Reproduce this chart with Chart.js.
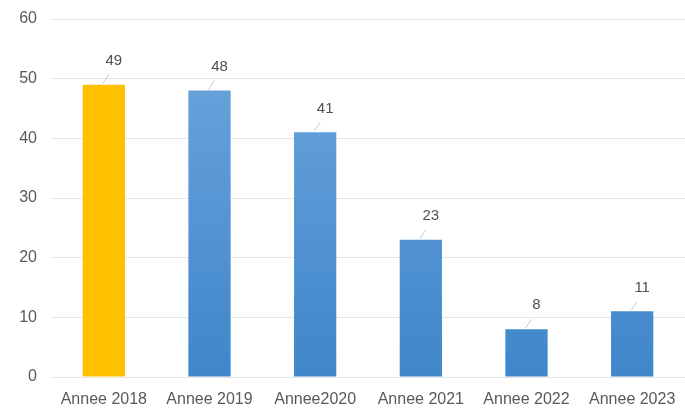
<!DOCTYPE html>
<html lang="fr">
<head>
  <meta charset="UTF-8">
  <title>Annees</title>
  <script src="https://cdn.jsdelivr.net/npm/chart.js"></script>
  <style>
    body { margin: 0; background: #fff; }
    #wrap { width: 685px; height: 408px; position: relative; }
  </style>
</head>
<body>
  <div id="wrap"><canvas id="chart"></canvas></div>
  <script>
    const labels = ['Annee 2018', 'Annee 2019', 'Annee2020', 'Annee 2021', 'Annee 2022', 'Annee 2023'];
    const values = [49, 48, 41, 23, 8, 11];
    const yTicks = [0, 10, 20, 30, 40, 50, 60];

    const FONT = '"Liberation Sans", Arial, sans-serif';

    // blue gradient for bars, yellow for the first one
    function barColor(ctx) {
      if (ctx.dataIndex === 0) return '#ffc000';
      const area = ctx.chart.chartArea;
      if (!area) return '#5b9bd5';
      const g = ctx.chart.ctx.createLinearGradient(0, area.top, 0, area.bottom);
      g.addColorStop(0, '#6fa7dd');
      g.addColorStop(1, '#3f86cb');
      return g;
    }

    // value labels with a short leader line
    const valueLabels = {
      id: 'valueLabels',
      afterDatasetsDraw(chart) {
        const c = chart.ctx;
        const meta = chart.getDatasetMeta(0);
        c.save();
        c.font = '15px ' + FONT;
        c.textAlign = 'center';
        c.textBaseline = 'middle';
        meta.data.forEach((bar, i) => {
          c.strokeStyle = 'rgba(150,170,200,0.6)';
          c.lineWidth = 1;
          c.beginPath();
          c.moveTo(bar.x - 1, bar.y - 1);
          c.lineTo(bar.x + 5, bar.y - 10);
          c.stroke();
          c.fillStyle = '#505050';
          c.fillText(values[i], bar.x + 10, bar.y - 24);
        });
        c.restore();
      }
    };

    new Chart(document.getElementById('chart'), {
      type: 'bar',
      data: {
        labels: labels,
        datasets: [{
          data: values,
          backgroundColor: barColor,
          barPercentage: 0.4,
          categoryPercentage: 1
        }]
      },
      options: {
        responsive: true,
        maintainAspectRatio: false,
        animation: false,
        layout: { padding: { top: 19, right: -3, left: 0, bottom: 0 } },
        plugins: { legend: { display: false }, tooltip: { enabled: false } },
        scales: {
          x: {
            afterFit(axis) { axis.height = 31; },
            grid: { display: false },
            border: { display: false },
            ticks: {
              color: '#595959',
              font: { size: 16, family: FONT },
              maxRotation: 0,
              padding: 5
            }
          },
          y: {
            min: 0,
            max: 60,
            afterBuildTicks(axis) { axis.ticks = yTicks.map(v => ({ value: v })); },
            afterFit(axis) { axis.width = 51; axis.paddingTop = 0; axis.paddingBottom = 0; },
            grid: { color: '#e6e6e6', drawTicks: false },
            border: { display: false },
            ticks: {
              color: '#595959',
              font: { size: 16, family: FONT },
              padding: 14
            }
          }
        }
      },
      plugins: [valueLabels]
    });
  </script>
</body>
</html>
